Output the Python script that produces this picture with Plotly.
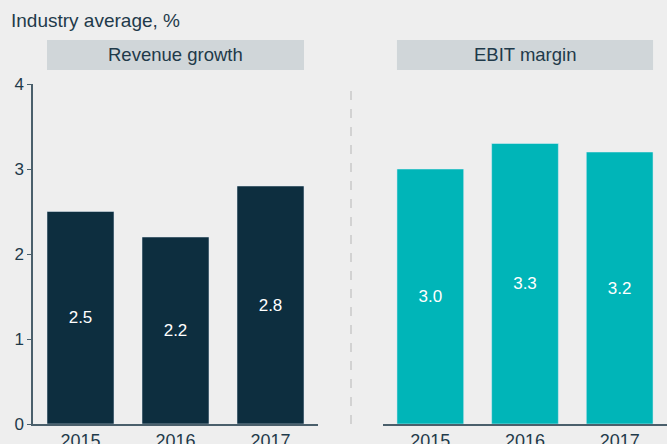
import plotly.graph_objects as go

years = ["2015", "2016", "2017"]
revenue_growth = [2.5, 2.2, 2.8]
ebit_margin = [3.0, 3.3, 3.2]
panel_titles = ["Revenue growth", "EBIT margin"]
y_ticks = [0, 1, 2, 3, 4]

W, H = 667, 444
def px_x(p): return p / W
def px_y(p): return (H - p) / H

DARK = "#0d2e3f"
TEAL = "#00b5b8"
TXT = "#1f3a4a"
AX = "#4a5f6b"
BG = "#eeeeee"
FONT = "Liberation Sans, Arial, sans-serif"

fig = go.Figure()
fig.add_trace(go.Bar(x=years, y=revenue_growth, marker_color=DARK, width=0.705,
                     texttemplate="%{y:.1f}", textposition="inside", insidetextanchor="middle",
                     textangle=0, textfont=dict(color="white", size=17, family=FONT),
                     xaxis="x", yaxis="y", hoverinfo="skip"))
fig.add_trace(go.Bar(x=years, y=ebit_margin, marker_color=TEAL, width=0.705,
                     texttemplate="%{y:.1f}", textposition="inside", insidetextanchor="middle",
                     textangle=0, textfont=dict(color="white", size=17, family=FONT),
                     xaxis="x2", yaxis="y2", hoverinfo="skip"))

ydom = [px_y(424), px_y(84)]
fig.update_layout(
    width=W, height=H, margin=dict(l=0, r=0, t=0, b=0, autoexpand=False),
    paper_bgcolor=BG, plot_bgcolor=BG, showlegend=False,
    font=dict(family=FONT, color=TXT),
    xaxis=dict(domain=[px_x(33), px_x(318)], anchor="y", showline=True, linecolor=AX, linewidth=1.5,
               ticks="", ticklen=0, showgrid=False, tickfont=dict(size=18, color=TXT), automargin=False),
    yaxis=dict(domain=ydom, range=[0, 4], tickvals=y_ticks, showline=True, linecolor=AX, linewidth=1.5,
               ticks="outside", ticklen=4, tickcolor=AX, showgrid=False, zeroline=False,
               tickfont=dict(size=17, color=TXT), anchor="x", automargin=False),
    xaxis2=dict(domain=[px_x(383), 1.0], anchor="y2", showline=True, linecolor=AX, linewidth=1.5,
                ticks="", ticklen=0, showgrid=False, tickfont=dict(size=18, color=TXT), automargin=False),
    yaxis2=dict(domain=ydom, range=[0, 4], visible=False, anchor="x2", automargin=False),
)

for i, (xr, title) in enumerate([("x", panel_titles[0]), ("x2", panel_titles[1])]):
    fig.add_shape(type="rect", xref=xr, yref="paper", x0=-0.3525, x1=2.3525,
                  y0=px_y(70), y1=px_y(40), fillcolor="#d0d6d9", line_width=0, layer="below")
    fig.add_annotation(xref=xr, yref="paper", x=1, y=px_y(55), text=title, showarrow=False,
                       font=dict(size=18.5, color=TXT, family=FONT), xanchor="center", yanchor="middle")

fig.add_shape(type="line", xref="paper", yref="paper", x0=px_x(351), x1=px_x(351),
              y0=px_y(424), y1=px_y(90), line=dict(color="#c9c9c9", width=1.5, dash="dash"))

fig.add_annotation(xref="paper", yref="paper", x=px_x(9), y=px_y(21), text="Industry average, %",
                   showarrow=False, xanchor="left", yanchor="middle",
                   font=dict(size=19, color=TXT, family=FONT))

fig.write_html("out.html", config={"displayModeBar": False},
               post_script="document.body.style.margin='0px';document.body.style.padding='0px';")
